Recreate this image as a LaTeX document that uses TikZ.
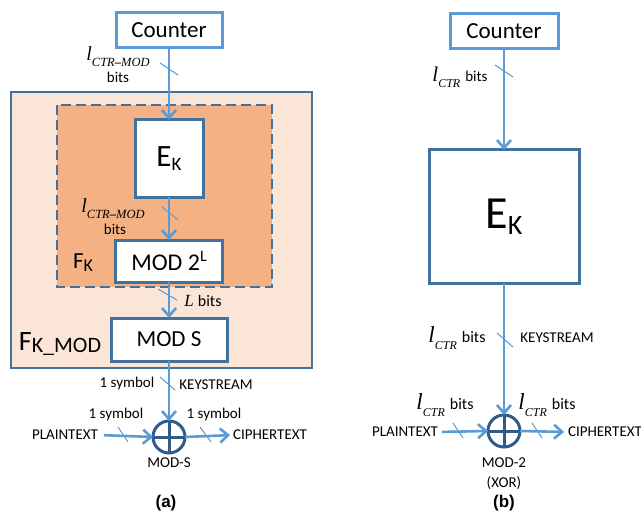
\documentclass[tikz,border=0pt]{standalone}
\usepackage{fontspec}
\setmainfont{Carlito}
\newfontfamily\capfont{Liberation Sans}
\newfontfamily\varfont{Liberation Serif}
\usetikzlibrary{arrows.meta}

\definecolor{arrowblue}{HTML}{5B9BD5}
\definecolor{edgeblue}{HTML}{41719C}
\definecolor{ringblue}{HTML}{2F5C8A}
\definecolor{outerfill}{HTML}{FBE5D6}
\definecolor{innerfill}{HTML}{F4B183}

\newcommand\fsz[1]{\fontsize{#1}{#1}\selectfont}
% italic variable l with a lowered subscript: size of l, size of subscript, subscript
\newcommand\lsub[3]{{\varfont\itshape\fsz{#1}l\raisebox{-0.3em}{\fsz{#2}#3}}}

\tikzset{
  every node/.style={inner sep=0pt, outer sep=0pt},
  plainbox/.style={draw=edgeblue, line width=3pt, fill=white},
  ctrbox/.style={draw=arrowblue, line width=3pt, fill=white, font=\fsz{23}},
  flow/.style={draw=arrowblue, line width=2.6pt, -{Straight Barb[length=8pt,width=14pt]}},
  tick/.style={draw=arrowblue, line width=1pt},
  xorring/.style={circle, draw=ringblue, line width=3pt, minimum size=32pt},
  lbl/.style={font=\fsz{15}},
}

\begin{document}
\begin{tikzpicture}[x=1pt,y=-1pt]
\useasboundingbox (0,0) rectangle (641,511);

% ---------- (a) ----------
\path[fill=outerfill, draw=edgeblue, line width=2.5pt] (11,92) rectangle (312,368);
\path[fill=innerfill, draw=edgeblue, line width=2.8pt, dash pattern=on 10pt off 5pt] (57,105) rectangle (272,287);

\node[ctrbox, minimum width=106pt, minimum height=35pt] (ctrA) at (169,30.5) {Counter};
\node[plainbox, minimum width=68pt, minimum height=77pt, font=\fsz{31}] (ekA) at (169,158.5) {E\raisebox{-0.12em}{\fsz{19}K}};
\node[plainbox, minimum width=107pt, minimum height=42pt, font=\fsz{24}] (m2A) at (169,261) {MOD 2\raisebox{0.35em}{\fsz{16}L}};
\node[plainbox, minimum width=116pt, minimum height=43pt, font=\fsz{23}] (msA) at (169,339.5) {MOD S};
\node[xorring] (xorA) at (169,437) {};
\draw[ringblue, line width=3pt] (xorA.north) -- (xorA.south) (xorA.west) -- (xorA.east);

\node (la1) at (118,57) {\lsub{20}{12.5}{CTR\textbf{\textendash}MOD}};
\node[lbl] (la1b) at (118,77) {bits};
\node (la2) at (113,209) {\lsub{20}{12.5}{CTR\textbf{\textendash}MOD}};
\node[lbl] (la2b) at (115,229) {bits};
\node (fk) at (83,263) {\fsz{23}F\raisebox{-0.12em}{\fsz{18}K}};
\node (lbits) at (203,301) {{\varfont\itshape\fsz{17}L}\hspace{4pt}\fsz{16}bits};
\node (fkmod) at (60,344) {\fsz{28}F\raisebox{-0.06em}{\fsz{22}K\_MOD}};
\node[lbl] (sym1) at (127,384) {1 symbol};
\node[lbl] (ksA) at (216,385) {KEYSTREAM};
\node[lbl] (sym2) at (116,414) {1 symbol};
\node[lbl] (sym3) at (214,414) {1 symbol};
\node[lbl] (ptA) at (65,435) {PLAINTEXT};
\node[lbl] (ctA) at (270,435) {CIPHERTEXT};
\node[lbl] (modS) at (169,463) {MOD-S};
\node[font=\capfont\bfseries\fsz{17}] (capA) at (166,503) {(a)};

\draw[flow] (ctrA.south) -- (ekA.north);
\draw[flow] (ekA.south) -- (m2A.north);
\draw[flow] (m2A.south) -- (msA.north);
\draw[flow] (msA.south) -- (xorA.north);
\draw[flow, shorten <=6pt] (ptA.east) -- (xorA.west);
\draw[flow, shorten >=3pt] (xorA.east) -- (ctA.west);

\draw[tick] (160,63) -- (178,75);
\draw[tick] (162,207) -- (178,220);
\draw[tick] (158,289) -- (177,300);
\draw[tick] (160,377) -- (175,390);
\draw[tick] (118,427) -- (128,442);
\draw[tick] (200,427) -- (211,442);

% ---------- (b) ----------
\node[ctrbox, minimum width=108pt, minimum height=35pt] (ctrB) at (504,31.5) {Counter};
\node[plainbox, minimum width=150pt, minimum height=133pt, font=\fsz{46}] (ekB) at (504,216.5) {E\raisebox{-0.12em}{\fsz{28}K}};
\node[xorring] (xorB) at (504,431) {};
\draw[ringblue, line width=3pt] (xorB.north) -- (xorB.south) (xorB.west) -- (xorB.east);

\node (lb1) at (460,77) {\lsub{21}{12}{CTR}\hspace{5pt}\fsz{15}bits};
\node (lb2) at (457,338) {\lsub{23}{12}{CTR}\hspace{5pt}\fsz{16}bits};
\node[lbl] (ksB) at (557,338) {KEYSTREAM};
\node (lb3) at (445,405) {\lsub{23}{12}{CTR}\hspace{5pt}\fsz{16}bits};
\node (lb4) at (547,405) {\lsub{23}{12}{CTR}\hspace{5pt}\fsz{16}bits};
\node[lbl] (ptB) at (405,432) {PLAINTEXT};
\node[lbl] (ctB) at (605,432) {CIPHERTEXT};
\node[lbl] (mod2) at (504,463) {MOD-2};
\node[lbl] (xorlbl) at (504,483) {(XOR)};
\node[font=\capfont\bfseries\fsz{17}] (capB) at (504,503) {(b)};

\draw[flow] (ctrB.south) -- (ekB.north);
\draw[flow] (ekB.south) -- (xorB.north);
\draw[flow, shorten <=4pt] (ptB.east) -- (xorB.west);
\draw[flow, shorten >=4pt] (xorB.east) -- (ctB.west);

\draw[tick] (495,65) -- (513,77);
\draw[tick] (497,333) -- (513,347);
\draw[tick] (453,423) -- (463,438);
\draw[tick] (532,423) -- (542,438);
\end{tikzpicture}
\end{document}
